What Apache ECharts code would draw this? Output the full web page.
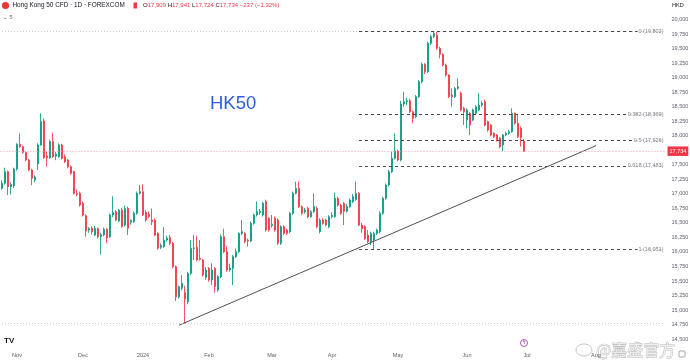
<!DOCTYPE html>
<html><head><meta charset="utf-8">
<script src="https://cdn.jsdelivr.net/npm/echarts/dist/echarts.min.js"></script>
<style>html,body{margin:0;padding:0;background:#fff}#c{width:690px;height:362px}</style>
</head><body><div id="c"></div>
<script>
// ---- data ----
const startDate = '2023-10-25';
const holidays = ['2023-12-25', '2024-01-01', '2024-03-29'];
const axisCount = 222;
const tickMonths = ['2023-11','2023-12','2024-01','2024-02','2024-03','2024-04','2024-05','2024-06','2024-07','2024-08'];
const tickLabels = ['Nov','Dec','2024','Feb','Mar','Apr','May','Jun','Jul','Aug'];

const opens = [17095,17181,17382,17124,17140,17428,17852,17812,17714,17583,17411,17240,17520,17841,18254,17650,17623,17898,17650,17640,
17841,17640,17580,17468,17382,17009,17009,16840,16625,16378,16410,16292,16400,16270,16292,16390,16263,16636,16694,16533,
16722,16464,16751,16510,16522,16665,17009,17038,16680,16650,16550,16550,16321,16080,16091,16206,16246,16149,15747,15231,
15374,15300,15145,15632,16062,16080,15890,15862,15560,15718,15518,15718,15346,15575,16263,16005,15690,15720,15920,16005,
16320,16320,16206,16190,16493,16636,16680,16636,16866,16579,16450,16579,16550,16149,16435,16378,16350,16665,17009,17095,
16780,16694,16750,16607,16694,16750,16350,16550,16550,16435,16607,16607,16923,16808,16837,16700,16780,16866,16900,17009,
16464,16436,16290,16177,16206,16320,16349,16665,16923,17152,17382,17611,17737,17582,18546,18586,18600,18414,18328,18672,
18930,19228,19102,19590,19705,19733,19504,19400,19217,19045,18700,18672,18816,18730,18471,18271,18385,18271,18385,18443,
18529,18586,18242,18185,18041,18013,17955,17841,18013,18041,18070,18385,18213,18127,17909];
const highs = [17230,17450,17400,17200,17450,17870,18041,17830,17730,17600,17430,17320,17870,18385,18300,17726,17930,18050,17720,17870,
17860,17680,17600,17490,17400,17070,17040,16870,16650,16430,16440,16450,16420,16330,16420,16410,16660,16960,16720,16740,
16760,16800,16780,16560,16700,17040,17152,17164,16720,16700,16751,16580,16340,16150,16430,16280,16290,16170,15770,15420,
15600,15420,15660,16206,16292,16275,16206,15880,15740,15740,15805,15740,15600,16300,16400,16100,15800,15950,16060,16340,
16550,16340,16230,16520,16660,16866,16740,16866,16900,16600,16636,16610,16580,16460,16460,16400,16690,17040,17210,17210,
16800,16760,16780,16720,17009,16780,16580,16580,16570,16630,16680,17020,16950,16830,16860,16830,16920,17000,17210,17030,
16500,16460,16378,16349,16349,16400,16700,16950,17180,17410,17726,18041,17760,18600,18758,18650,18640,18430,18700,18960,
19260,19250,19620,19740,19802,19790,19530,19420,19240,19060,18816,18840,18988,18760,18500,18470,18410,18470,18530,18730,
18600,18620,18260,18200,18060,18030,17980,18030,18070,18100,18471,18400,18357,18160,17941];
const lows = [17070,17160,16980,16990,17100,17400,17790,17690,17560,17390,17150,17200,17411,17830,17600,17468,17600,17620,17580,17620,
17590,17530,17440,17330,16990,16960,16780,16610,16263,16330,16300,16270,16230,15959,16270,16150,16240,16600,16530,16510,
16420,16440,16292,16470,16500,16640,16990,16620,16520,16580,16464,16270,16040,16050,16070,16180,16120,15720,15157,15200,
15340,14770,15100,15600,15862,15840,15850,15580,15520,15490,15432,15300,15320,15550,15980,15660,15660,15432,15900,15980,
16290,16150,16092,16170,16470,16610,16640,16610,16350,16350,16420,16350,16120,16120,16290,16290,16320,16640,16990,16760,
16640,16660,16580,16590,16670,16410,16320,16470,16440,16410,16580,16590,16780,16640,16464,16680,16760,16840,16880,16440,
16330,16206,16150,16120,16051,16290,16320,16640,16900,17130,17360,17590,17560,17560,18500,18530,18390,18213,18300,18650,
18900,19060,19080,19560,19680,19480,19330,19190,19020,18650,18500,18650,18790,18420,18185,18127,18013,18250,18360,18420,
18500,18160,18070,17990,17960,17900,17783,17737,17990,18020,18050,18190,17960,17812,17724];
const closes = [17181,17382,17124,17160,17428,17852,17812,17714,17583,17411,17267,17290,17841,18242,17623,17620,17898,17640,17680,17841,
17611,17554,17468,17353,17009,16990,16808,16636,16361,16400,16350,16407,16263,16300,16390,16246,16636,16680,16550,16722,
16436,16751,16407,16545,16665,17009,17038,16640,16550,16610,16522,16292,16063,16110,16206,16240,16149,15747,15231,15403,
15460,15190,15632,16062,16070,15862,15873,15604,15689,15518,15689,15403,15575,16263,16005,15690,15720,15920,16005,16320,
16350,16177,16190,16493,16636,16694,16700,16837,16378,16378,16475,16378,16149,16435,16321,16321,16665,17009,17095,16780,
16665,16722,16607,16694,16780,16435,16550,16493,16464,16607,16630,16923,16808,16665,16700,16780,16894,16950,17009,16464,
16400,16235,16177,16320,16320,16378,16665,16923,17152,17382,17611,17737,17582,18546,18586,18600,18414,18299,18672,18930,
19228,19102,19590,19705,19760,19504,19400,19217,19045,18672,18672,18816,18844,18443,18414,18443,18185,18443,18500,18529,
18557,18185,18099,18013,17984,17927,17812,18013,18041,18070,18385,18213,17984,17971,17734];

const lastPrice = 17734;
const fibLevels = [19802, 18369, 17926, 17483, 16051];
const fibNames = ['0 (19,802)', '0.382 (18,369)', '0.5 (17,926)', '0.618 (17,483)', '1 (16,051)'];
const fibStartIndex = 119;
const rangeHigh = 19802;
const rangeLow = 14770;
const trendStart = [59, 14740];
const trendEnd = [198, 17830];

// ---- build ----
function buildDates(start, count, skip) {
  const out = []; const d = new Date(start + 'T00:00:00Z');
  while (out.length < count) {
    const wd = d.getUTCDay(); const s = d.toISOString().slice(0, 10);
    if (wd !== 0 && wd !== 6 && skip.indexOf(s) < 0) out.push(s);
    d.setUTCDate(d.getUTCDate() + 1);
  }
  return out;
}
const dates = buildDates(startDate, axisCount, holidays);
const lastIdx = axisCount - 1;
const firstIdx = {};
dates.forEach((s, i) => { const m = s.slice(0, 7); if (!(m in firstIdx)) firstIdx[m] = i; });
const tickIdx = new Set(tickMonths.map(m => firstIdx[m]));
const labelFor = {}; tickMonths.forEach((m, k) => labelFor[m] = tickLabels[k]);
const candles = opens.map((o, i) => [o, closes[i], lows[i], highs[i]]);
const fmt = v => v.toLocaleString('en-US');

const fibLines = fibLevels.map(v => [
  { coord: [fibStartIndex, v] },
  { coord: [lastIdx, v] }
]);

const chart = echarts.init(document.getElementById('c'), null, { renderer: 'canvas' });
const FF = 'Liberation Sans, Arial, sans-serif';
const axisFont = { fontSize: 5.5, color: '#5d606b', fontFamily: FF };
chart.setOption({
  animation: false,
  backgroundColor: '#ffffff',
  grid: { left: 0.5, right: 23.5, top: 4.96, bottom: 8.3, outerBoundsMode: 'none', containLabel: false },
  xAxis: {
    type: 'category', data: dates, boundaryGap: true,
    axisLine: { show: false }, axisTick: { show: false }, splitLine: { show: false },
    axisLabel: Object.assign({}, axisFont, {
      margin: -1, hideOverlap: false,
      interval: (i) => tickIdx.has(i),
      formatter: (v) => labelFor[v.slice(0, 7)] || ''
    })
  },
  yAxis: {
    type: 'value', position: 'right', min: 14250, max: 20250, interval: 250, scale: true,
    axisLine: { show: false }, axisTick: { show: false }, splitLine: { show: false },
    axisLabel: Object.assign({}, axisFont, {
      margin: 5,
      formatter: (v) => (v < 14500 || v > 20000) ? '' : fmt(v)
    })
  },
  series: [
    {
      type: 'candlestick', data: candles, barWidth: 1.7,
      itemStyle: { color: '#089981', color0: '#f23645', borderColor: '#089981', borderColor0: '#f23645', borderWidth: 0.85 },
      markLine: {
        silent: true, symbol: 'none', animation: false,
        data: [
          [{ coord: [0, rangeHigh], lineStyle: { type: [1, 2], color: '#c9cbd1', width: 1 }, label: { show: false } }, { coord: [lastIdx, rangeHigh] }],
          [{ coord: [0, rangeLow], lineStyle: { type: [1, 2], color: '#c9cbd1', width: 1 }, label: { show: false } }, { coord: [lastIdx, rangeLow] }],
          ...fibLines.map(l => [Object.assign({ lineStyle: { type: [3, 3], color: '#4a4a4a', width: 1 }, label: { show: false } }, l[0]), l[1]]),
          { yAxis: lastPrice, lineStyle: { type: [1, 2], color: '#e9a3a8', width: 1 },
            label: { show: true, position: 'end', distance: 1, formatter: fmt(lastPrice), backgroundColor: '#f23645',
                     color: '#fff', fontSize: 5.5, padding: [2, 2, 1.5, 2], fontFamily: FF } }
        ]
      }
    },
    {
      type: 'line', data: [trendStart, trendEnd], showSymbol: false, symbol: 'none', silent: true,
      lineStyle: { color: '#3c3c3c', width: 0.9 }, z: 3
    },
    {
      type: 'scatter', data: fibLevels.map((v, k) => ({ value: [lastIdx, v], name: fibNames[k] })),
      symbolSize: 1, itemStyle: { color: 'rgba(0,0,0,0)' }, silent: true, z: 5,
      label: { show: true, position: 'left', distance: 0, formatter: p => p.name, backgroundColor: '#ffffff',
               color: '#5d606b', fontSize: 5.5, padding: [0, 1], fontFamily: FF }
    }
  ],
  graphic: [
    { type: 'circle', shape: { cx: 5.5, cy: 5.5, r: 3.6 }, style: { fill: '#e53935' } },
    { type: 'text', x: 12.5, y: 5.5, style: { text: 'Hong Kong 50 CFD · 1D · FOREXCOM', fill: '#131722', fontSize: 6.4, fontFamily: FF, verticalAlign: 'middle' } },
    { type: 'rect', shape: { x: 133.5, y: 2.5, width: 3.5, height: 6 }, style: { fill: '#f23645' } },
    { type: 'text', x: 143, y: 5.5, style: { text: '{k|O}{v|17,909} {k|H}{v|17,941} {k|L}{v|17,724} {k|C}{v|17,734} {v|−237 (−1.32%)}', verticalAlign: 'middle', fontSize: 6, fontFamily: FF,
      rich: { k: { fill: '#131722', fontSize: 6 }, v: { fill: '#f23645', fontSize: 6 } } } },
    { type: 'text', x: 3, y: 17.5, style: { text: '⌄ 5', fill: '#5d606b', fontSize: 5.5, fontFamily: 'DejaVu Sans, sans-serif', verticalAlign: 'middle' } },
    { type: 'text', x: 672, y: 5.5, style: { text: 'HKD', fill: '#131722', fontSize: 5.5, fontFamily: FF, verticalAlign: 'middle' } },
    { type: 'text', x: 210, y: 104, style: { text: 'HK50', fill: '#2d5fe0', fontSize: 18.5, fontFamily: FF, verticalAlign: 'middle' } },
    { type: 'text', x: 4, y: 341, style: { text: 'TV', fill: '#131722', fontSize: 8, fontWeight: 'bold', fontFamily: FF, verticalAlign: 'middle' } },
    { type: 'circle', shape: { cx: 524, cy: 343, r: 3.5 }, style: { fill: '#fff', stroke: '#9c27b0', lineWidth: 0.8 } },
    { type: 'text', x: 524, y: 343, style: { text: 'ϟ', fill: '#9c27b0', fontSize: 5, align: 'center', verticalAlign: 'middle' } },
    { type: 'rect', shape: { x: 679, y: 351, width: 6, height: 6, r: 1 }, style: { fill: '#fff', stroke: '#6a6d78', lineWidth: 0.6 } },
    { type: 'text', x: 596, y: 350, style: { text: '@嘉盛官方', fill: 'rgba(255,255,255,0.7)', stroke: '#b5b5b5', lineWidth: 0.8, fontSize: 16, fontFamily: 'Noto Sans CJK SC, sans-serif', verticalAlign: 'middle' } },
    { type: 'ellipse', shape: { cx: 584, cy: 350, rx: 8, ry: 6 }, style: { fill: 'rgba(255,255,255,0.5)', stroke: '#b5b5b5', lineWidth: 0.8 } }
  ]
});
</script>
</body></html>
